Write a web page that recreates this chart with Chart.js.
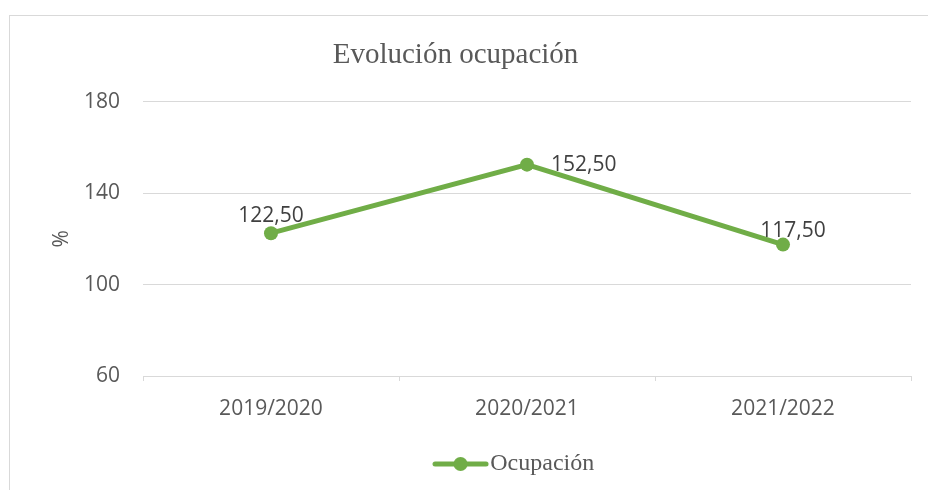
<!DOCTYPE html>
<html>
<head>
<meta charset="utf-8">
<script src="https://cdn.jsdelivr.net/npm/chart.js@4.4.1/dist/chart.umd.min.js"></script>
<style>
  html, body { margin: 0; padding: 0; background: #fff; overflow: hidden; }
  #frame { position: absolute; left: 9px; top: 15px; width: 960px; height: 520px; border: 1px solid #d9d9d9; }
  #chart { position: absolute; left: 0; top: 0; }
</style>
</head>
<body>
<div id="frame"></div>
<canvas id="chart" width="928" height="490"></canvas>
<script>
// Chart data
const seasons = ['2019/2020', '2020/2021', '2021/2022'];
const occupancy = [122.5, 152.5, 117.5];
const yTicks = [60, 100, 140, 180];

const colors = {
  green: '#70AD47',
  grid: '#D9D9D9',
  text: '#595959',
  label: '#404040'
};
const fonts = {
  serif: "'Liberation Serif', 'Times New Roman', serif",
  sans: "'Open Sans', 'Noto Sans', sans-serif"
};

// Legend marker: line with a dot in the middle
function makeLegendMarker() {
  const c = document.createElement('canvas');
  c.width = 74;
  c.height = 16;
  const g = c.getContext('2d');
  g.strokeStyle = colors.green;
  g.lineWidth = 5;
  g.lineCap = 'round';
  g.beginPath();
  g.moveTo(3, 8);
  g.lineTo(54, 8);
  g.stroke();
  g.fillStyle = colors.green;
  g.beginPath();
  g.arc(28.5, 8, 7, 0, Math.PI * 2);
  g.fill();
  return c;
}

// Value labels, Excel style (comma decimals)
const labelOffsets = [
  { dx: 0, dy: -17, align: 'center' },
  { dx: 24, dy: 0, align: 'left' },
  { dx: 10, dy: -14, align: 'center' }
];
const valueLabels = {
  id: 'valueLabels',
  afterDatasetsDraw(chart) {
    const ctx = chart.ctx;
    const meta = chart.getDatasetMeta(0);
    ctx.save();
    ctx.font = '21px ' + fonts.sans;
    ctx.fillStyle = colors.label;
    ctx.textBaseline = 'middle';
    meta.data.forEach((pt, i) => {
      const o = labelOffsets[i];
      ctx.textAlign = o.align;
      const txt = occupancy[i].toFixed(2).replace('.', ',');
      ctx.fillText(txt, pt.x + o.dx, pt.y + o.dy);
    });
    ctx.restore();
  }
};

const legendMarker = makeLegendMarker();

new Chart(document.getElementById('chart'), {
  type: 'line',
  data: {
    labels: seasons,
    datasets: [{
      label: 'Ocupación',
      data: occupancy,
      borderColor: colors.green,
      backgroundColor: colors.green,
      borderWidth: 5,
      pointRadius: 7,
      pointHoverRadius: 7,
      pointBackgroundColor: colors.green,
      pointBorderWidth: 0,
      tension: 0
    }]
  },
  options: {
    responsive: false,
    animation: false,
    layout: { padding: { left: 0, right: 17, top: 0, bottom: 4 } },
    plugins: {
      title: {
        display: true,
        text: 'Evolución ocupación',
        color: colors.text,
        font: { family: fonts.serif, size: 29, weight: 'normal' },
        padding: { top: 38, bottom: 29 }
      },
      legend: {
        position: 'bottom',
        fullSize: false,
        labels: {
          usePointStyle: true,
          pointStyleWidth: 18.5,
          color: colors.text,
          font: { family: fonts.serif, size: 24 },
          padding: 10,
          generateLabels: () => [{
            text: 'Ocupación',
            pointStyle: legendMarker,
            fillStyle: colors.green,
            strokeStyle: colors.green,
            lineWidth: 0,
            fontColor: colors.text,
            datasetIndex: 0
          }]
        }
      },
      tooltip: { enabled: false }
    },
    scales: {
      x: {
        offset: true,
        grid: {
          offset: true,
          drawOnChartArea: false,
          drawTicks: true,
          tickLength: 5,
          color: colors.grid
        },
        border: { color: colors.grid },
        ticks: {
          color: colors.text,
          font: { family: fonts.sans, size: 21 },
          padding: 15,
          maxRotation: 0
        },
        afterFit(scale) { scale.height = 66; }
      },
      y: {
        min: 60,
        max: 180,
        afterBuildTicks(scale) { scale.ticks = yTicks.map(v => ({ value: v })); },
        grid: { color: colors.grid, drawTicks: false },
        border: { display: false },
        ticks: {
          color: colors.text,
          font: { family: fonts.sans, size: 21 },
          padding: 23
        },
        title: {
          display: true,
          text: '%',
          color: colors.text,
          font: { family: fonts.sans, size: 21 },
          padding: { top: 49, bottom: 0 }
        },
        afterFit(scale) { scale.width = 143; }
      }
    }
  },
  plugins: [valueLabels]
});
</script>
</body>
</html>
